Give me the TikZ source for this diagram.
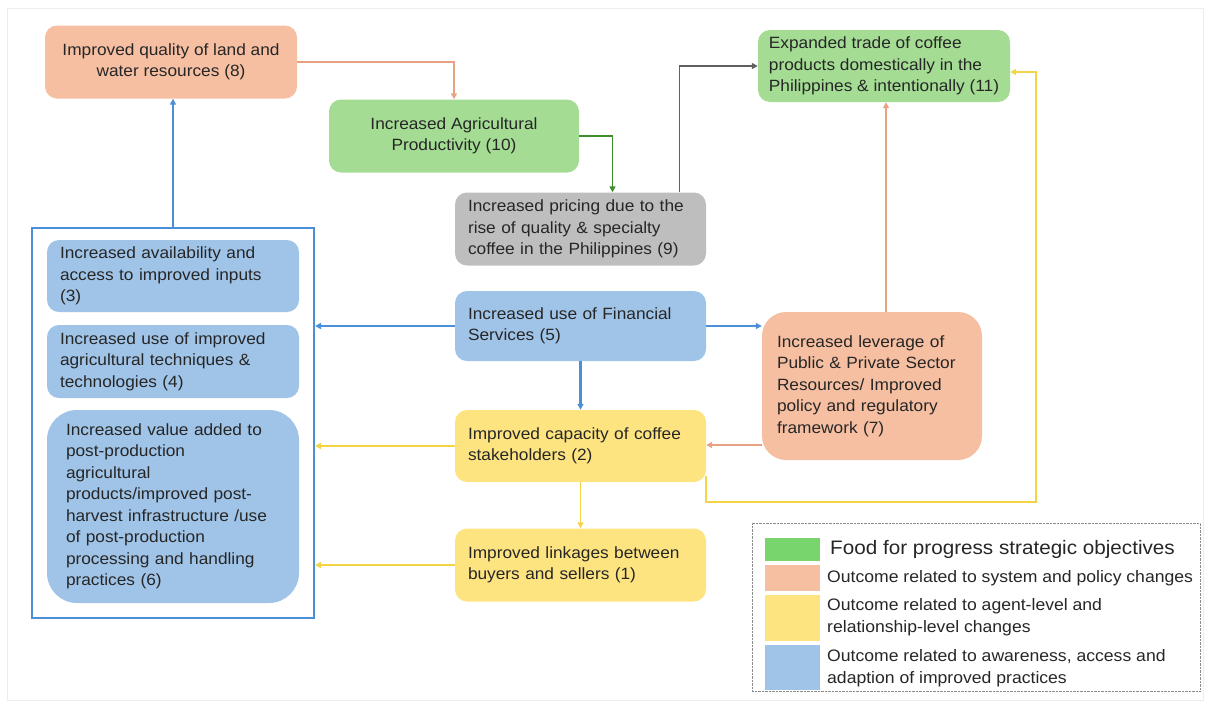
\documentclass[tikz,border=0pt]{standalone}
\usepackage{fontspec}
\setmainfont[FakeStretch=1.06]{Liberation Sans}
\usetikzlibrary{arrows.meta,calc}
\definecolor{cOr}{HTML}{F6BFA2}
\definecolor{cGr}{HTML}{A4DC94}
\definecolor{cGy}{HTML}{BEBEBE}
\definecolor{cBl}{HTML}{A0C4E8}
\definecolor{cYe}{HTML}{FDE481}
\definecolor{lBl}{HTML}{4A8FD8}
\definecolor{lOr}{HTML}{E9A184}
\definecolor{lYe}{HTML}{F2D445}
\definecolor{lGr}{HTML}{3E8E2C}
\definecolor{lGy}{HTML}{606060}
\definecolor{txt}{HTML}{262626}
\definecolor{legGr}{HTML}{78D46C}
\begin{document}
\begin{tikzpicture}[x=1pt,y=-1pt,
  box/.style={rounded corners=12pt, inner xsep=13pt, inner ysep=0pt, text=txt,
    font=\fontsize{16.3}{21.5}\selectfont},
  lbox/.style={box, align=left},
  conn/.style={line width=1.8pt, -{Triangle[length=6pt,width=6pt]}},
  swatch/.style={inner sep=0pt, minimum width=55},
  legtxt/.style={anchor=west, inner sep=0pt, align=left, text=txt,
    font=\fontsize{16.6}{22}\selectfont}]
\useasboundingbox (0,0) rectangle (1205,705);
\draw[black!7] (7,8) rectangle (1203,700);
% nodes
\node[box, fill=cOr, align=center, minimum width=252, minimum height=73] (n8) at (171,62)
  {Improved quality of land and\\water resources (8)};
\node[box, fill=cGr, align=center, minimum width=250, minimum height=73] (n10) at (454,136)
  {Increased Agricultural\\Productivity (10)};
\node[lbox, fill=cGy, text width=225, minimum height=73] (n9) at (580.5,229)
  {Increased pricing due to the\\rise of quality \& specialty\\coffee in the Philippines (9)};
\node[lbox, fill=cGr, inner xsep=4pt, minimum width=252, minimum height=72] (n11) at (884,66)
  {Expanded trade of coffee\\products domestically in the\\Philippines \& intentionally (11)};
\node[lbox, fill=cBl, text width=225, minimum height=70] (n5) at (580.5,326)
  {Increased use of Financial\\Services (5)};
\node[lbox, fill=cOr, rounded corners=24pt, inner xsep=15pt, text width=190, minimum height=148] (n7) at (872,386)
  {Increased leverage of\\Public \& Private Sector\\Resources/ Improved\\policy and regulatory\\framework (7)};
\node[lbox, fill=cYe, text width=225, minimum height=72] (n2) at (580.5,446)
  {Improved capacity of coffee\\stakeholders (2)};
\node[lbox, fill=cYe, text width=225, minimum height=73] (n1) at (580.5,565)
  {Improved linkages between\\buyers and sellers (1)};
\node[draw=lBl, line width=2pt, fill=white, minimum width=282, minimum height=390, inner sep=0pt] (grp) at (173,423) {};
\node[lbox, fill=cBl, text width=226, minimum height=72] (n3) at (173,276)
  {Increased availability and\\access to improved inputs\\(3)};
\node[lbox, fill=cBl, text width=226, minimum height=73] (n4) at (173,361.5)
  {Increased use of improved\\agricultural techniques \&\\technologies (4)};
\node[lbox, fill=cBl, rounded corners=30pt, inner xsep=19pt, text width=214, minimum height=193] (n6) at (173,506.5)
  {Increased value added to\\post-production\\agricultural\\products/improved post-\\harvest infrastructure /use\\of post-production\\processing and handling\\practices (6)};
% connectors
\draw[conn, lOr] (n8.east) -| (n10.north);
\draw[conn, lGr] (n10.east) -| ($(n9.north)+(32,0)$);
\draw[conn, lGy] ($(n9.north)+(99,0)$) |- (n11.west);
\draw[conn, lOr] ($(n7.north)+(14,0)$) -- ($(n11.south)+(2,0)$);
\draw[conn, lBl, line width=2.2pt] (n5.west) -- (n5.west -| grp.east);
\draw[conn, lBl, line width=2.2pt] (n5.east) -- (n5.east -| n7.west);
\draw[conn, lBl, line width=2.2pt] (n5.south) -- (n2.north);
\draw[conn, lOr] ($(n7.west)+(0,59)$) coordinate (o7) -- (o7 -| n2.east);
\draw[conn, lYe] (n2.west) -- (n2.west -| grp.east);
\draw[conn, lYe] (n2.south) -- (n1.north);
\draw[conn, lYe] (n1.west) -- (n1.west -| grp.east);
\coordinate (yc) at (1036,502);
\draw[conn, lYe] ($(n2.south east)+(0,-6)$) |- (yc) |- ($(n11.east)+(0,6)$);
\draw[conn, lBl, line width=2.2pt] (grp.north) -- (grp.north |- n8.south);
% legend
\node[draw=black!45, densely dotted, minimum width=448, minimum height=168, inner sep=0pt] (leg) at (976,607) {};
\node[swatch, fill=legGr, minimum height=23] (sG) at (792,549.5) {};
\node[swatch, fill=cOr, minimum height=26] (sO) at (792,578) {};
\node[swatch, fill=cYe, minimum height=46] (sY) at (792,618) {};
\node[swatch, fill=cBl, minimum height=45] (sB) at (792,667.5) {};
\node[legtxt, font=\fontsize{19.5}{24}\selectfont] (tG) at (830,549) {Food for progress strategic objectives};
\node[legtxt] (tO) at (827,578) {Outcome related to system and policy changes};
\node[legtxt] (tY) at (827,617) {Outcome related to agent-level and\\relationship-level changes};
\node[legtxt] (tB) at (827,668) {Outcome related to awareness, access and\\adaption of improved practices};
\end{tikzpicture}
\end{document}
